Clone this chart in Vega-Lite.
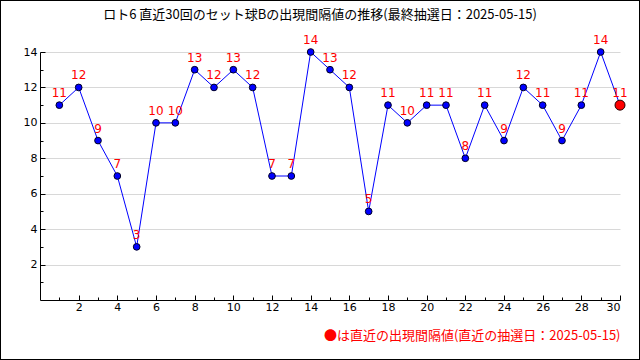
{
  "$schema": "https://vega.github.io/schema/vega-lite/v6.json",
  "width": 640,
  "height": 360,
  "autosize": "none",
  "padding": 0,
  "background": "white",
  "config": {
    "view": {"stroke": "black", "strokeWidth": 2},
    "font": "Noto Sans CJK JP",
    "axis": {"domainColor": "black", "tickColor": "black", "labelColor": "black", "labelFont": "DejaVu Sans", "labelFontSize": 11}
  },
  "title": {
    "text": "ロト6 直近30回のセット球Bの出現間隔値の推移(最終抽選日：2025-05-15)",
    "font": "Noto Sans CJK JP",
    "fontSize": 13,
    "fontWeight": "normal",
    "color": "black",
    "anchor": "middle",
    "frame": "group",
    "baseline": "middle",
    "offset": -14,
    "dy": 14
  },
  "data": {
    "values": [
      {"n": 1, "v": 11}, {"n": 2, "v": 12}, {"n": 3, "v": 9}, {"n": 4, "v": 7}, {"n": 5, "v": 3},
      {"n": 6, "v": 10}, {"n": 7, "v": 10}, {"n": 8, "v": 13}, {"n": 9, "v": 12}, {"n": 10, "v": 13},
      {"n": 11, "v": 12}, {"n": 12, "v": 7}, {"n": 13, "v": 7}, {"n": 14, "v": 14}, {"n": 15, "v": 13},
      {"n": 16, "v": 12}, {"n": 17, "v": 5}, {"n": 18, "v": 11}, {"n": 19, "v": 10}, {"n": 20, "v": 11},
      {"n": 21, "v": 11}, {"n": 22, "v": 8}, {"n": 23, "v": 11}, {"n": 24, "v": 9}, {"n": 25, "v": 12},
      {"n": 26, "v": 11}, {"n": 27, "v": 9}, {"n": 28, "v": 11}, {"n": 29, "v": 14}, {"n": 30, "v": 11}
    ]
  },
  "resolve": {"axis": {"x": "independent", "y": "independent"}},
  "layer": [
    {
      "mark": {"type": "line", "color": "#0000ff", "strokeWidth": 1},
      "encoding": {
        "x": {
          "field": "n", "type": "quantitative",
          "scale": {"domain": [0, 30], "range": [40, 620], "nice": false, "zero": false},
          "axis": {
            "orient": "bottom", "offset": -60,
            "values": [2, 4, 6, 8, 10, 12, 14, 16, 18, 20, 22, 24, 26, 28, 30],
            "tickSize": -5, "labelPadding": 6, "grid": false,
            "title": "●は直近の出現間隔値(直近の抽選日：2025-05-15)",
            "titleColor": "#ff0000", "titleFont": "Noto Sans CJK JP", "titleFontSize": 13, "titleFontWeight": "normal",
            "titleX": 620, "titleY": 35, "titleAlign": "right", "titleBaseline": "middle", "titleAnchor": null
          }
        },
        "y": {
          "field": "v", "type": "quantitative",
          "scale": {"domain": [0, 14], "range": [300, 52], "nice": false, "zero": false},
          "axis": {
            "orient": "left", "offset": -40,
            "values": [2, 4, 6, 8, 10, 12, 14],
            "tickSize": -5, "labelPadding": 8, "grid": true, "gridColor": "#d8d8d8", "title": null
          }
        }
      }
    },
    {
      "transform": [{"filter": "datum.n < 30"}],
      "mark": {"type": "point", "filled": true, "fill": "#0000ff", "stroke": "#000022", "strokeWidth": 1, "size": 45, "opacity": 1},
      "encoding": {
        "x": {
          "field": "n", "type": "quantitative",
          "axis": {"orient": "bottom", "offset": -60, "values": [1, 3, 5, 7, 9, 11, 13, 15, 17, 19, 21, 23, 25, 27, 29], "tickSize": -3, "labels": false, "domain": false, "grid": false, "title": null}
        },
        "y": {
          "field": "v", "type": "quantitative",
          "axis": {"orient": "left", "offset": -40, "values": [1, 3, 5, 7, 9, 11, 13], "tickSize": -3, "labels": false, "domain": false, "grid": false, "title": null}
        }
      }
    },
    {
      "transform": [{"filter": "datum.n == 30"}],
      "mark": {"type": "point", "filled": true, "fill": "#ff0000", "stroke": "#220000", "strokeWidth": 1, "size": 100, "opacity": 1},
      "encoding": {
        "x": {"field": "n", "type": "quantitative", "axis": null},
        "y": {"field": "v", "type": "quantitative", "axis": null}
      }
    },
    {
      "mark": {"type": "text", "color": "#ff0000", "font": "DejaVu Sans", "fontSize": 12, "dy": -12, "baseline": "middle"},
      "encoding": {
        "x": {"field": "n", "type": "quantitative", "axis": null},
        "y": {"field": "v", "type": "quantitative", "axis": null},
        "text": {"field": "v", "type": "quantitative"}
      }
    }
  ]
}
